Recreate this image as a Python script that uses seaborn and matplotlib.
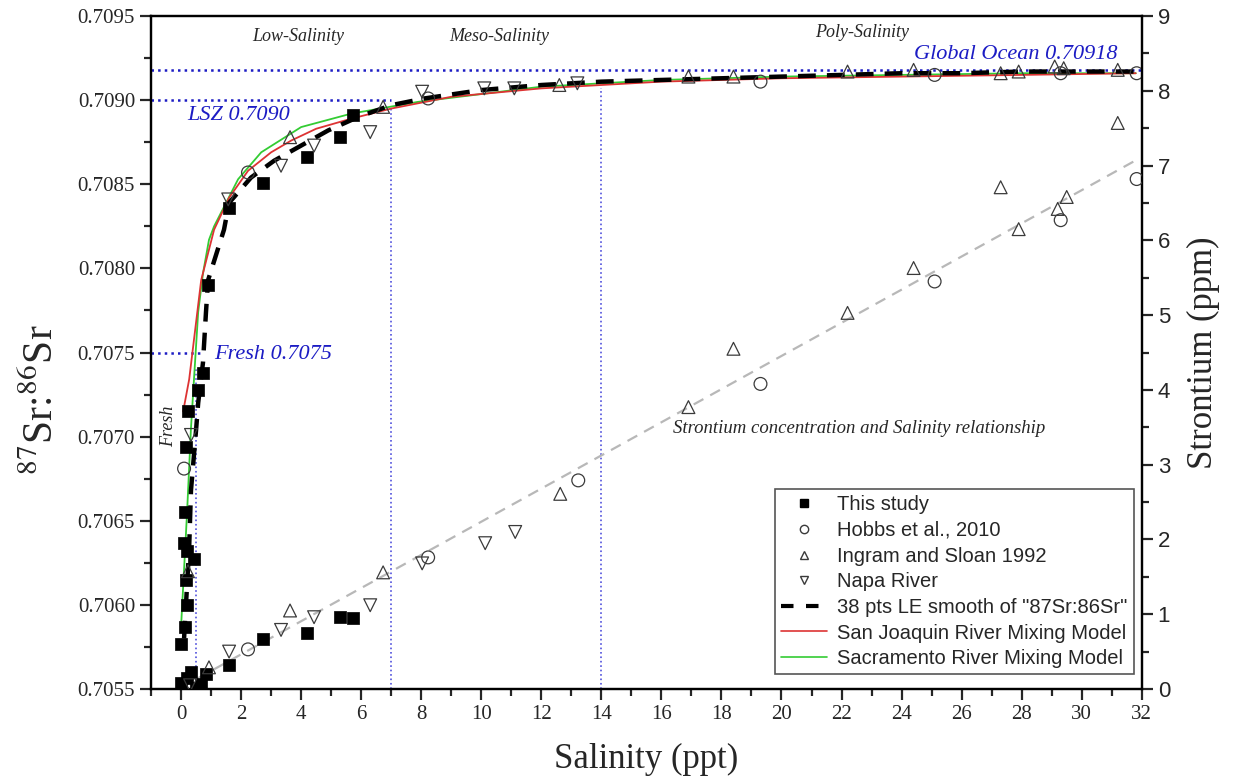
import numpy as np
import pandas as pd
import matplotlib
matplotlib.use("Agg")
import matplotlib.pyplot as plt
from matplotlib.lines import Line2D
from matplotlib.ticker import MultipleLocator, FormatStrFormatter
import seaborn as sns

# -------- Data: 87Sr/86Sr ratio (left axis) --------
study_x = [0.0, 0.13, 0.2, 0.17, 0.2, 0.1, 0.43, 0.13, 0.17, 0.23, 0.57, 0.73, 0.9,
           1.6, 2.73, 4.2, 5.3, 5.73]
study_ratio = [0.70577, 0.70587, 0.70600, 0.70615, 0.70632, 0.70637, 0.70627, 0.70655,
               0.70694, 0.70715, 0.70728, 0.70738, 0.70790, 0.70836, 0.70851, 0.70866,
               0.70878, 0.70891]

hobbs_x = [0.1, 2.23, 8.23, 19.3, 25.1, 29.3, 31.83]
hobbs_ratio = [0.70681, 0.70857, 0.70901, 0.70911, 0.70915, 0.70916, 0.70916]

ingram_x = [0.23, 3.63, 6.73, 12.6, 16.9, 18.4, 22.2, 24.4, 27.3, 27.9, 29.1, 29.4, 31.2]
ingram_ratio = [0.70620, 0.70878, 0.70896, 0.70909, 0.70914, 0.70914, 0.70917, 0.70918,
                0.70916, 0.70917, 0.70920, 0.70919, 0.70918]

napa_x = [0.33, 1.57, 3.33, 4.43, 6.3, 8.03, 10.1, 11.1, 13.2]
napa_ratio = [0.70701, 0.70841, 0.70861, 0.70873, 0.70881, 0.70905, 0.70907, 0.70907,
              0.70910]

# -------- Data: Sr concentration (right axis) --------
study_ppm_x = [0.0, 0.2, 0.33, 0.5, 0.67, 0.83, 1.6, 2.73, 4.2, 5.3, 5.73]
study_ppm = [0.08, 0.15, 0.23, 0.02, 0.07, 0.2, 0.32, 0.67, 0.75, 0.96, 0.95]

hobbs_ppm_x = [2.23, 8.23, 13.23, 19.3, 25.1, 29.3, 31.83]
hobbs_ppm = [0.53, 1.76, 2.79, 4.08, 5.45, 6.27, 6.82]

ingram_ppm_x = [0.93, 3.63, 6.73, 12.63, 16.9, 18.4, 22.2, 24.4, 27.3, 27.9, 29.2, 29.5, 31.2]
ingram_ppm = [0.29, 1.05, 1.56, 2.61, 3.77, 4.55, 5.03, 5.63, 6.71, 6.15, 6.42, 6.58, 7.57]

napa_ppm_x = [0.3, 1.6, 3.33, 4.43, 6.3, 8.03, 10.13, 11.13]
napa_ppm = [0.05, 0.5, 0.79, 0.96, 1.12, 1.68, 1.95, 2.10]

sr_fit_x = [0.0, 31.8]
sr_fit_ppm = [0.02, 7.07]

# -------- Curves --------
smooth_x = [0.1, 0.27, 0.33, 0.5, 0.57, 0.73, 0.83, 0.9, 1.43, 1.6, 2.33, 3.1, 3.9, 4.9,
            5.9, 7.0, 8.1, 10, 12, 14, 16, 18, 20, 22, 24, 26, 28, 30, 31.8]
smooth_ratio = [0.70580, 0.70634, 0.70668, 0.70704, 0.70720, 0.70744, 0.70774, 0.70793,
                0.70823, 0.70839, 0.70854, 0.70864, 0.70872, 0.70882, 0.70890, 0.70897,
                0.70901, 0.70906, 0.70909, 0.70911, 0.70912, 0.70913, 0.70914, 0.70915,
                0.70916, 0.70916, 0.70917, 0.70917, 0.70917]

sj_x = [0.07, 0.27, 0.67, 1.1, 1.6, 2.23, 3.0, 3.67, 4.5, 5.67, 7, 9, 12, 16, 20, 24, 28, 31.8]
sj_ratio = [0.70715, 0.70734, 0.70793, 0.70823, 0.70842, 0.70858, 0.70869, 0.70876,
            0.70883, 0.70889, 0.70895, 0.70902, 0.70907, 0.70911, 0.70913, 0.70914,
            0.70915, 0.70916]

sac_x = [0.0, 0.1, 0.2, 0.33, 0.43, 0.57, 0.73, 0.93, 1.1, 1.9, 2.67, 4.0, 5.67, 7.9, 12,
         16, 20, 24, 28, 31.8]
sac_ratio = [0.70587, 0.70621, 0.70655, 0.70705, 0.70734, 0.70774, 0.70797, 0.70817,
             0.70825, 0.70853, 0.70869, 0.70884, 0.70892, 0.70899, 0.70908, 0.70912,
             0.70914, 0.70915, 0.70916, 0.70916]

# -------- Reference values --------
global_ocean = 0.70918
lsz = 0.7090
fresh = 0.7075
zone_bounds = [0.5, 7, 14]

# -------- Style --------
sns.set_style("ticks")
plt.rcParams["font.family"] = ["Liberation Serif", "DejaVu Serif"]
plt.rcParams["mathtext.fontset"] = "stix"

blue = "#1c1cc4"
edge = "#3a3a3a"

fig = plt.figure(figsize=(12.33, 7.78), dpi=100)
ax = fig.add_axes([0.1225, 0.1144, 0.8035, 0.8650])
ax2 = ax.twinx()

# -------- Reference lines --------
ax.hlines(global_ocean, -1, 32, colors=blue, linestyles=":", linewidth=1.8, zorder=1)
ax.hlines(lsz, -1, 7, colors=blue, linestyles=":", linewidth=1.8, zorder=1)
ax.hlines(fresh, -1, 0.7, colors=blue, linestyles=":", linewidth=1.8, zorder=1)
ax.vlines(zone_bounds[0], 0.7055, 0.7074, colors="#5050dd", linestyles=":", linewidth=1.2, zorder=1)
ax.vlines(zone_bounds[1], 0.7055, 0.70896, colors="#5050dd", linestyles=":", linewidth=1.2, zorder=1)
ax.vlines(zone_bounds[2], 0.7055, 0.70907, colors="#5050dd", linestyles=":", linewidth=1.2, zorder=1)

# -------- Curves (ratio) --------
sns.lineplot(x=sac_x, y=sac_ratio, ax=ax, color="#33cc33", linewidth=1.3, zorder=2)
sns.lineplot(x=sj_x, y=sj_ratio, ax=ax, color="#dd3333", linewidth=1.3, zorder=2)
sns.lineplot(x=smooth_x, y=smooth_ratio, ax=ax, color="black", linewidth=3.2,
             dashes=(4, 2.5), zorder=3)

# -------- Points (ratio) --------
ms_sq, ms_open = 70, 85
sns.scatterplot(x=study_x, y=study_ratio, ax=ax, marker="s", s=ms_sq, color="black",
                edgecolor="black", linewidth=0.5, zorder=4)
sns.scatterplot(x=hobbs_x, y=hobbs_ratio, ax=ax, marker="o", s=ms_open, facecolor="none",
                edgecolor=edge, linewidth=0.9, zorder=4)
sns.scatterplot(x=ingram_x, y=ingram_ratio, ax=ax, marker="^", s=ms_open, facecolor="none",
                edgecolor=edge, linewidth=0.9, zorder=4)
sns.scatterplot(x=napa_x, y=napa_ratio, ax=ax, marker="v", s=ms_open, facecolor="none",
                edgecolor=edge, linewidth=0.9, zorder=4)

# -------- Right axis: Sr concentration --------
sns.lineplot(x=sr_fit_x, y=sr_fit_ppm, ax=ax2, color="#b8b8b8", linewidth=1.6,
             dashes=(5, 3.5), zorder=2)
sns.scatterplot(x=study_ppm_x, y=study_ppm, ax=ax2, marker="s", s=ms_sq, color="black",
                edgecolor="black", linewidth=0.5, zorder=4)
sns.scatterplot(x=hobbs_ppm_x, y=hobbs_ppm, ax=ax2, marker="o", s=ms_open, facecolor="none",
                edgecolor=edge, linewidth=0.9, zorder=4)
sns.scatterplot(x=ingram_ppm_x, y=ingram_ppm, ax=ax2, marker="^", s=ms_open, facecolor="none",
                edgecolor=edge, linewidth=0.9, zorder=4)
sns.scatterplot(x=napa_ppm_x, y=napa_ppm, ax=ax2, marker="v", s=ms_open, facecolor="none",
                edgecolor=edge, linewidth=0.9, zorder=4)

# -------- Axes limits & ticks --------
ax.set_xlim(-1, 32)
ax.set_ylim(0.7055, 0.7095)
ax2.set_ylim(0, 9)

ax.xaxis.set_major_locator(MultipleLocator(2))
ax.xaxis.set_minor_locator(MultipleLocator(1))
ax.yaxis.set_major_locator(MultipleLocator(0.0005))
ax.yaxis.set_minor_locator(MultipleLocator(0.00025))
ax.yaxis.set_major_formatter(FormatStrFormatter("%.4f"))
ax2.yaxis.set_major_locator(MultipleLocator(1))
ax2.yaxis.set_minor_locator(MultipleLocator(0.5))

for a in (ax, ax2):
    for sp in a.spines.values():
        sp.set_linewidth(1.6)
        sp.set_color("black")
ax.tick_params(axis="both", which="major", direction="out", length=8, width=1.6,
               labelsize=15, top=False, right=False)
ax.tick_params(axis="both", which="minor", direction="out", length=5, width=1.6,
               top=False, right=False)
ax2.tick_params(axis="y", which="major", direction="out", length=8, width=1.6, labelsize=16)
ax2.tick_params(axis="y", which="minor", direction="out", length=5, width=1.6)
for lab in ax2.get_yticklabels():
    lab.set_family("Liberation Sans")

ax.set_xlabel("Salinity (ppt)", fontsize=25, labelpad=14)
ax.set_ylabel(r"$^{87}$Sr:$^{86}$Sr", fontsize=30)
ax.yaxis.set_label_coords(-0.09, 0.43)
ax2.set_ylabel("Strontium (ppm)", fontsize=25, labelpad=12)

# -------- Annotations --------
ax.text(3.9, 0.70938, "Low-Salinity", style="italic", fontsize=13, ha="center", va="center")
ax.text(10.6, 0.70938, "Meso-Salinity", style="italic", fontsize=13, ha="center", va="center")
ax.text(22.7, 0.70940, "Poly-Salinity", style="italic", fontsize=13, ha="center", va="center")
ax.text(24.4, 0.70927, "Global Ocean 0.70918", style="italic", fontsize=16, color=blue,
        ha="left", va="center")
ax.text(0.2, 0.70891, "LSZ 0.7090", style="italic", fontsize=16, color=blue,
        ha="left", va="center")
ax.text(1.1, 0.70749, "Fresh 0.7075", style="italic", fontsize=16, color=blue,
        ha="left", va="center")
ax.text(-0.4, 0.70706, "Fresh", style="italic", fontsize=13, rotation=90,
        ha="center", va="center")
ax.text(22.6, 0.70705, "Strontium concentration and Salinity relationship", style="italic",
        fontsize=13.5, ha="center", va="center")

# -------- Legend --------
handles = [
    Line2D([], [], marker="s", color="black", linestyle="", markersize=5.5),
    Line2D([], [], marker="o", markerfacecolor="none", markeredgecolor=edge, linestyle="", markersize=6),
    Line2D([], [], marker="^", markerfacecolor="none", markeredgecolor=edge, linestyle="", markersize=6),
    Line2D([], [], marker="v", markerfacecolor="none", markeredgecolor=edge, linestyle="", markersize=6),
    Line2D([], [], color="black", linewidth=3, dashes=(3, 3)),
    Line2D([], [], color="#dd3333", linewidth=1.2),
    Line2D([], [], color="#33cc33", linewidth=1.2),
]
labels = ["This study", "Hobbs et al., 2010", "Ingram and Sloan 1992", "Napa River",
          '38 pts LE smooth of "87Sr:86Sr"', "San Joaquin River Mixing Model",
          "Sacramento River Mixing Model"]
leg = ax2.legend(handles, labels, loc="lower right", bbox_to_anchor=(0.992, 0.022),
                 prop={"family": "Liberation Sans", "size": 14.5}, frameon=True,
                 fancybox=False, edgecolor="#555555", framealpha=1, labelspacing=0.33,
                 handlelength=2.3, handletextpad=0.5, borderpad=0.3, borderaxespad=0)
leg.get_frame().set_linewidth(1.2)

fig.savefig("out.png", dpi=100)
